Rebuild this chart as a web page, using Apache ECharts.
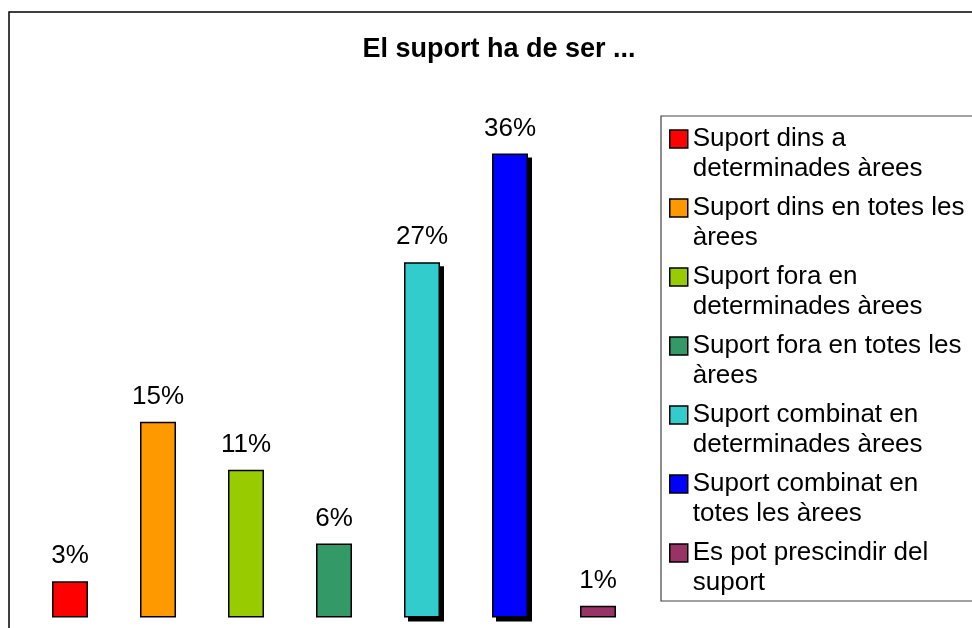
<!DOCTYPE html>
<html>
<head>
<meta charset="utf-8">
<title>El suport ha de ser ...</title>
<script src="https://cdn.jsdelivr.net/npm/echarts@6/dist/echarts.min.js"></script>
<style>
    html, body { margin: 0; padding: 0; background: #fff; }
    #main { width: 972px; height: 628px; }
</style>
</head>
<body>
<div id="main"></div>
<script>
// categories (legend text, wrapped like the picture)
var names = [
    'Suport dins a\ndeterminades àrees',
    'Suport dins en totes les\nàrees',
    'Suport fora en\ndeterminades àrees',
    'Suport fora en totes les\nàrees',
    'Suport combinat en\ndeterminades àrees',
    'Suport combinat en\ntotes les àrees',
    'Es pot prescindir del\nsuport'
];
// percentages
var values = [2.8, 15.1, 11.4, 5.7, 27.4, 35.8, 0.9];
var colors = ['#FF0000', '#FF9900', '#99CC00', '#339966', '#33CCCC', '#0000FF', '#993366'];
// bars that have the drop shadow
var shadowed = [4, 5];

var myChart = echarts.init(document.getElementById('main'));
var font = 'Liberation Sans, Arial, sans-serif';

var series = names.map(function (name, i) {
    return {
        name: name,
        type: 'bar',
        stack: 'all',
        barWidth: 36,
        z: 3,
        data: names.map(function (n, j) { return j === i ? values[i] : '-'; }),
        itemStyle: {
            color: colors[i],
            borderColor: '#000',
            borderWidth: 1.5
        },
        label: {
            show: true,
            position: 'top',
            distance: 12,
            color: '#000',
            fontSize: 26,
            fontFamily: font,
            formatter: function (p) { return Math.round(p.value) + '%'; }
        }
    };
});

// drop shadow: same bars in a grid moved 4px right and 4px down
series.push({
    name: 'shadow',
    type: 'bar',
    xAxisIndex: 1,
    yAxisIndex: 1,
    barWidth: 36,
    z: 1,
    silent: true,
    data: names.map(function (n, j) { return shadowed.indexOf(j) >= 0 ? values[j] : '-'; }),
    itemStyle: { color: '#000' }
});

var option = {
    animation: false,
    title: {
        text: 'El suport ha de ser ...',
        left: 494,
        textAlign: 'center',
        top: 31,
        textStyle: {
            fontSize: 27,
            fontWeight: 'bold',
            fontFamily: font,
            color: '#000'
        }
    },
    legend: {
        orient: 'vertical',
        left: 669,
        top: 94,
        padding: 0,
        itemWidth: 18,
        itemHeight: 18,
        itemGap: -21,
        icon: 'rect',
        data: names,
        formatter: function (n) { return '\n' + n; },
        itemStyle: {
            borderColor: '#000',
            borderWidth: 1.5
        },
        textStyle: {
            fontSize: 26,
            lineHeight: 30,
            fontFamily: font,
            color: '#000'
        }
    },
    grid: [
        { left: 26, right: 330, top: 99, bottom: 10.5 },
        { left: 30, right: 326, top: 103, bottom: 6.5 }
    ],
    xAxis: [
        { type: 'category', data: names, show: false, gridIndex: 0 },
        { type: 'category', data: names, show: false, gridIndex: 1 }
    ],
    yAxis: [
        { type: 'value', min: 0, max: 40, show: false, gridIndex: 0 },
        { type: 'value', min: 0, max: 40, show: false, gridIndex: 1 }
    ],
    graphic: [{
        type: 'rect',
        shape: { x: 9, y: 12, width: 1000, height: 1000 },
        style: { fill: 'none', stroke: '#000', lineWidth: 1.5 }
    }, {
        type: 'rect',
        shape: { x: 661, y: 116, width: 400, height: 485 },
        style: { fill: 'none', stroke: '#444', lineWidth: 1.2 }
    }],
    series: series
};

myChart.setOption(option);
</script>
</body>
</html>
